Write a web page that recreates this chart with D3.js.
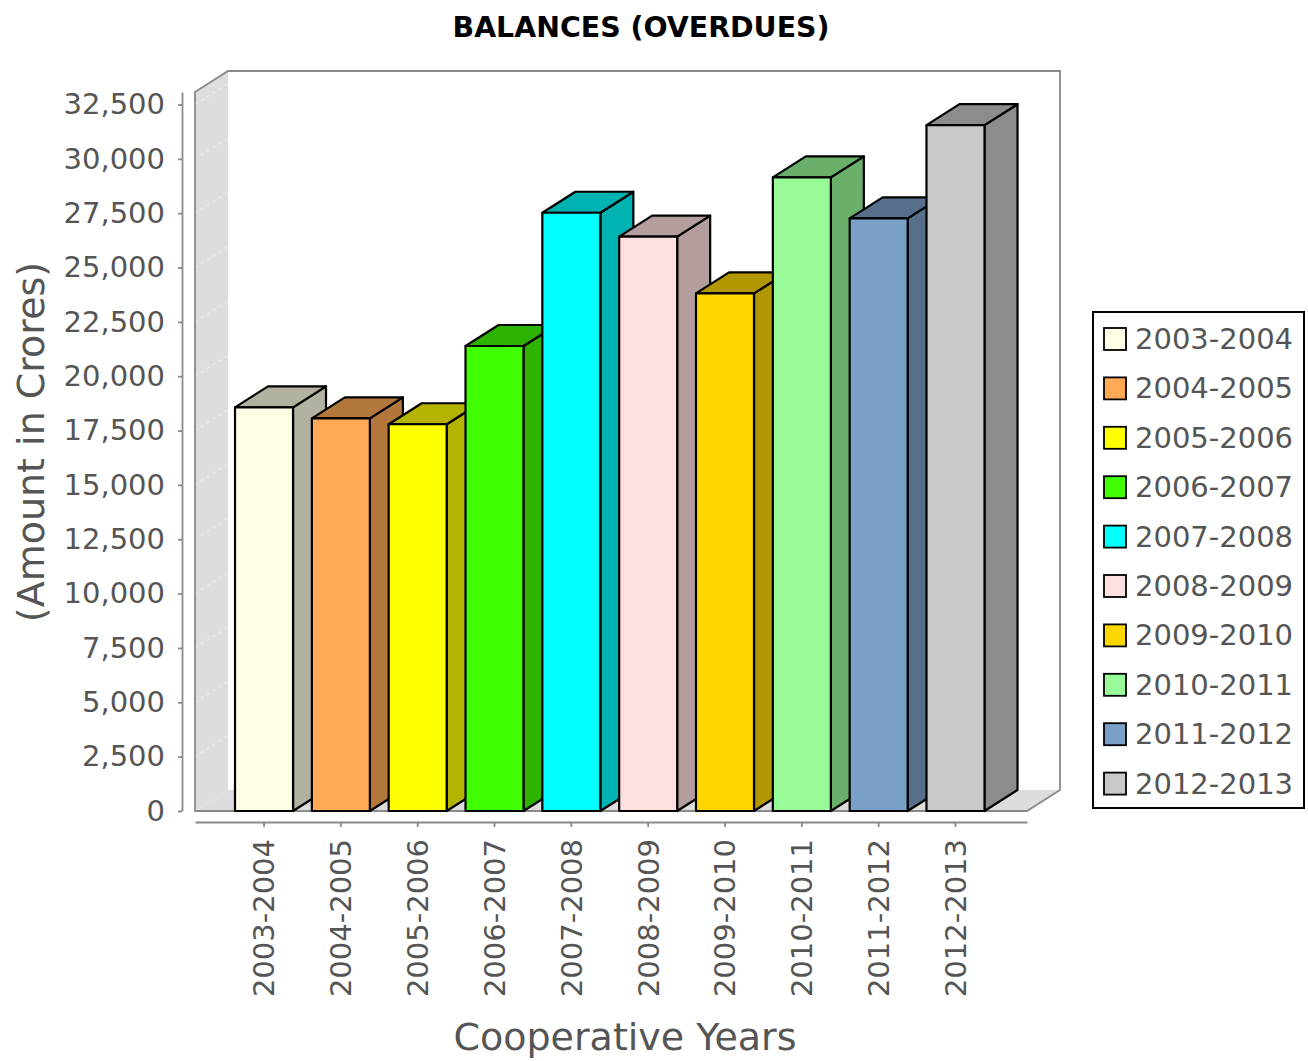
<!DOCTYPE html>
<html>
<head>
<meta charset="utf-8">
<script src="https://cdnjs.cloudflare.com/ajax/libs/d3/7.8.5/d3.min.js"></script>
<style>
  html, body { margin: 0; padding: 0; background: #fff; }
  svg { display: block; font-family: "DejaVu Sans", Verdana, sans-serif; }
</style>
</head>
<body>
<svg id="chart" width="1308" height="1061"></svg>
<script>
// ---- data ----
const chartTitle = "BALANCES (OVERDUES)";
const xTitle = "Cooperative Years";
const yTitle = "(Amount in Crores)";
const categories = ["2003-2004","2004-2005","2005-2006","2006-2007","2007-2008","2008-2009","2009-2010","2010-2011","2011-2012","2012-2013"];
const values = [18570, 18060, 17790, 21390, 27520, 26420, 23810, 29150, 27260, 31550];
const colors = ["#FFFDE3","#FFA955","#FFFF00","#40FF00","#00FFFF","#FFE0E0","#FFD700","#98FB98","#7BA0C8","#C8C8C8"];
const yTickValues = [0,2500,5000,7500,10000,12500,15000,17500,20000,22500,25000,27500,30000,32500];
const yMax = 33075;

// ---- layout ----
const svg = d3.select("#chart");
const front = {left: 195, right: 1027, top: 92, bottom: 811};
const dx = 33, dy = 21;

const y = d3.scaleLinear().domain([0, yMax]).range([front.bottom, front.top]);
const x = d3.scaleBand().domain(categories).range([front.left, front.right])
  .paddingInner(0.245).paddingOuter(0.537).align(0.485);

// title
svg.append("text").attr("x", 641).attr("y", 37).attr("text-anchor", "middle")
  .attr("font-size", 29).attr("font-weight", "bold").attr("fill", "#000")
  .attr("textLength", 377).attr("lengthAdjust", "spacingAndGlyphs")
  .text(chartTitle);

// walls
const g = svg.append("g");
const wallFill = "#DDDDDD";
g.append("rect").attr("x", front.left + dx).attr("y", front.top - dy)
  .attr("width", front.right - front.left).attr("height", front.bottom - front.top)
  .attr("fill", "#fff");
g.append("path").attr("d",
  `M${front.left},${front.top}L${front.left+dx},${front.top-dy}L${front.left+dx},${front.bottom-dy}L${front.left},${front.bottom}Z`)
  .attr("fill", wallFill);
g.append("path").attr("d",
  `M${front.left},${front.bottom}L${front.left+dx},${front.bottom-dy}L${front.right+dx},${front.bottom-dy}L${front.right},${front.bottom}Z`)
  .attr("fill", wallFill);
g.selectAll("line.grid").data(yTickValues.filter(d => d > 0)).join("line")
  .attr("class", "grid")
  .attr("x1", front.left).attr("y1", d => y(d))
  .attr("x2", front.left + dx).attr("y2", d => y(d) - dy)
  .attr("stroke", "#f4f4f4").attr("stroke-width", 1).attr("stroke-dasharray", "3,4");
g.append("path").attr("d",
  `M${front.left},${front.bottom}L${front.left},${front.top}L${front.left+dx},${front.top-dy}L${front.right+dx},${front.top-dy}L${front.right+dx},${front.bottom-dy}L${front.right},${front.bottom}Z`)
  .attr("fill", "none").attr("stroke", "#8a8a8a").attr("stroke-width", 1.8);

// bars
const bars = svg.append("g");
categories.forEach((c, i) => {
  const x0 = x(c), w = x.bandwidth();
  const yt = y(values[i]), yb = y(0);
  const base = d3.rgb(colors[i]);
  const dark = base.darker(1).formatHex();
  const bg = bars.append("g").attr("stroke", "#000").attr("stroke-width", 2.2).attr("stroke-linejoin", "round");
  bg.append("path").attr("d",
    `M${x0+w},${yb}L${x0+w},${yt}L${x0+w+dx},${yt-dy}L${x0+w+dx},${yb-dy}Z`).attr("fill", dark);
  bg.append("path").attr("d",
    `M${x0},${yt}L${x0+dx},${yt-dy}L${x0+w+dx},${yt-dy}L${x0+w},${yt}Z`).attr("fill", dark);
  bg.append("rect").attr("x", x0).attr("y", yt).attr("width", w).attr("height", yb - yt)
    .attr("fill", base.formatHex());
});

// value axis
const yAxis = svg.append("g").attr("transform", "translate(182,0)")
  .call(d3.axisLeft(y).tickValues(yTickValues).tickSize(4).tickSizeOuter(0).tickPadding(13)
    .tickFormat(d3.format(",")));
yAxis.select(".domain").attr("stroke", "#8a8a8a").attr("stroke-width", 1.8);
yAxis.selectAll(".tick line").attr("stroke", "#8a8a8a").attr("stroke-width", 1.8);
yAxis.selectAll(".tick text").attr("font-size", 29).attr("fill", "#555")
  .attr("font-family", "DejaVu Sans, Verdana, sans-serif");

// category axis
const xAxis = svg.append("g").attr("transform", "translate(0,822)")
  .call(d3.axisBottom(x).tickSize(5).tickSizeOuter(0));
xAxis.select(".domain").attr("stroke", "#8a8a8a").attr("stroke-width", 1.8);
xAxis.selectAll(".tick line").attr("stroke", "#8a8a8a").attr("stroke-width", 1.8);
xAxis.selectAll(".tick text")
  .attr("font-size", 29).attr("fill", "#555").attr("font-family", "DejaVu Sans, Verdana, sans-serif")
  .attr("transform", "rotate(-90)").attr("text-anchor", "end")
  .attr("x", -17).attr("y", 0).attr("dy", "0.36em");

// axis titles
svg.append("text").attr("x", 625).attr("y", 1050).attr("text-anchor", "middle")
  .attr("font-size", 38).attr("fill", "#555").text(xTitle);
svg.append("text").attr("transform", "translate(31,442) rotate(-90)")
  .attr("text-anchor", "middle").attr("dominant-baseline", "central")
  .attr("font-size", 38).attr("fill", "#555").text(yTitle);

// legend
const legend = svg.append("g");
legend.append("rect").attr("x", 1093).attr("y", 312).attr("width", 211).attr("height", 496)
  .attr("fill", "#fff").attr("stroke", "#000").attr("stroke-width", 2);
const items = legend.selectAll("g.item").data(categories).join("g").attr("class", "item")
  .attr("transform", (d, i) => `translate(0,${339 + i * 49.4})`);
items.append("rect").attr("x", 1104).attr("y", -11).attr("width", 22).attr("height", 22)
  .attr("fill", (d, i) => colors[i]).attr("stroke", "#000").attr("stroke-width", 1.8);
items.append("text").attr("x", 1135).attr("y", 0).attr("dominant-baseline", "central")
  .attr("font-size", 29).attr("fill", "#555").text(d => d);
</script>
</body>
</html>
